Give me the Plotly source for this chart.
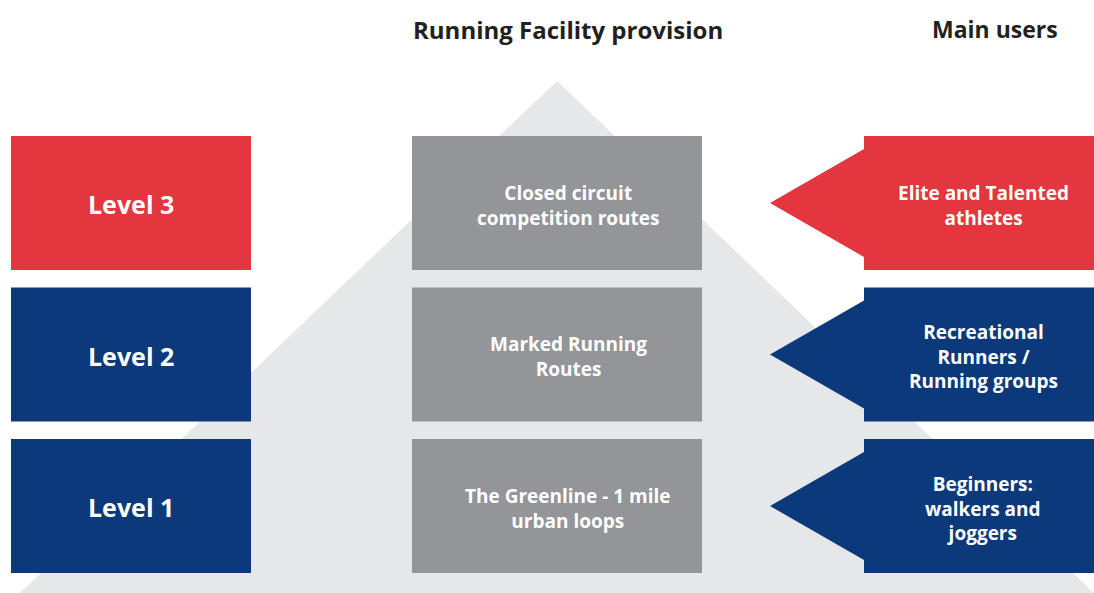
import plotly.graph_objects as go

# ---- data ----
levels = ["Level 3", "Level 2", "Level 1"]
provision = ["Closed circuit<br>competition routes", "Marked Running<br>Routes", "The Greenline - 1 mile<br>urban loops"]
users = ["Elite and Talented<br>athletes", "Recreational<br>Runners /<br>Running groups", "Beginners:<br>walkers and<br>joggers"]
level_colors = ["#E3363E", "#0B3979", "#0B3979"]
titles = ["Running Facility provision", "Main users"]

W, H = 1094, 593
GREY_BOX = "#939598"
PYR = "#E6E7E8"
FONT = "Open Sans"

fig = go.Figure()
shapes = []
annotations = []

# pyramid background
shapes.append(dict(type="path", path="M 557 81 L 20 593 L 1094 593 Z",
                   fillcolor=PYR, line=dict(width=0), layer="below"))

row_h = 134
row_step = 151.5
top0 = 136
for i, (lv, pv, us, col) in enumerate(zip(levels, provision, users, level_colors)):
    y0 = top0 + i * row_step
    y1 = y0 + row_h
    yc = (y0 + y1) / 2
    shapes.append(dict(type="rect", x0=11, x1=251, y0=y0, y1=y1, fillcolor=col, line=dict(width=0)))
    shapes.append(dict(type="rect", x0=412, x1=702, y0=y0, y1=y1, fillcolor=GREY_BOX, line=dict(width=0)))
    shapes.append(dict(type="rect", x0=864, x1=1094, y0=y0, y1=y1, fillcolor=col, line=dict(width=0)))
    shapes.append(dict(type="path", path=f"M 864 {y0+13} L 770 {yc} L 864 {y1-13} Z",
                       fillcolor=col, line=dict(width=0)))
    annotations.append(dict(x=131, y=yc + 1, text=f"<b>{lv}</b>", showarrow=False,
                            font=dict(family=FONT, size=25, color="white"), xanchor="center", yanchor="middle"))
    annotations.append(dict(x=568, y=yc + 2, text=f"<b>{pv}</b>", showarrow=False,
                            font=dict(family=FONT, size=19, color="white"), xanchor="center", yanchor="middle"))
    annotations.append(dict(x=983, y=yc + 2, text=f"<b>{us}</b>", showarrow=False,
                            font=dict(family=FONT, size=19, color="white"), xanchor="center", yanchor="middle"))

annotations.append(dict(x=568, y=29, text=f"<b>{titles[0]}</b>", showarrow=False,
                        font=dict(family=FONT, size=24, color="#231F20"), xanchor="center", yanchor="middle"))
annotations.append(dict(x=995, y=29, text=f"<b>{titles[1]}</b>", showarrow=False,
                        font=dict(family=FONT, size=23, color="#231F20"), xanchor="center", yanchor="middle"))

fig.update_layout(
    width=W, height=H,
    margin=dict(l=0, r=0, t=0, b=0),
    paper_bgcolor="white", plot_bgcolor="white",
    xaxis=dict(range=[0, W], visible=False, fixedrange=True),
    yaxis=dict(range=[H, 0], visible=False, fixedrange=True),
    shapes=shapes, annotations=annotations, showlegend=False,
)
fig.write_html("out.html", config={"displayModeBar": False})

with open("out.html", encoding="utf-8") as f:
    html = f.read()
html = html.replace("<head>", "<head><style>html,body{margin:0;padding:0;overflow:hidden;}</style>", 1)
with open("out.html", "w", encoding="utf-8") as f:
    f.write(html)
